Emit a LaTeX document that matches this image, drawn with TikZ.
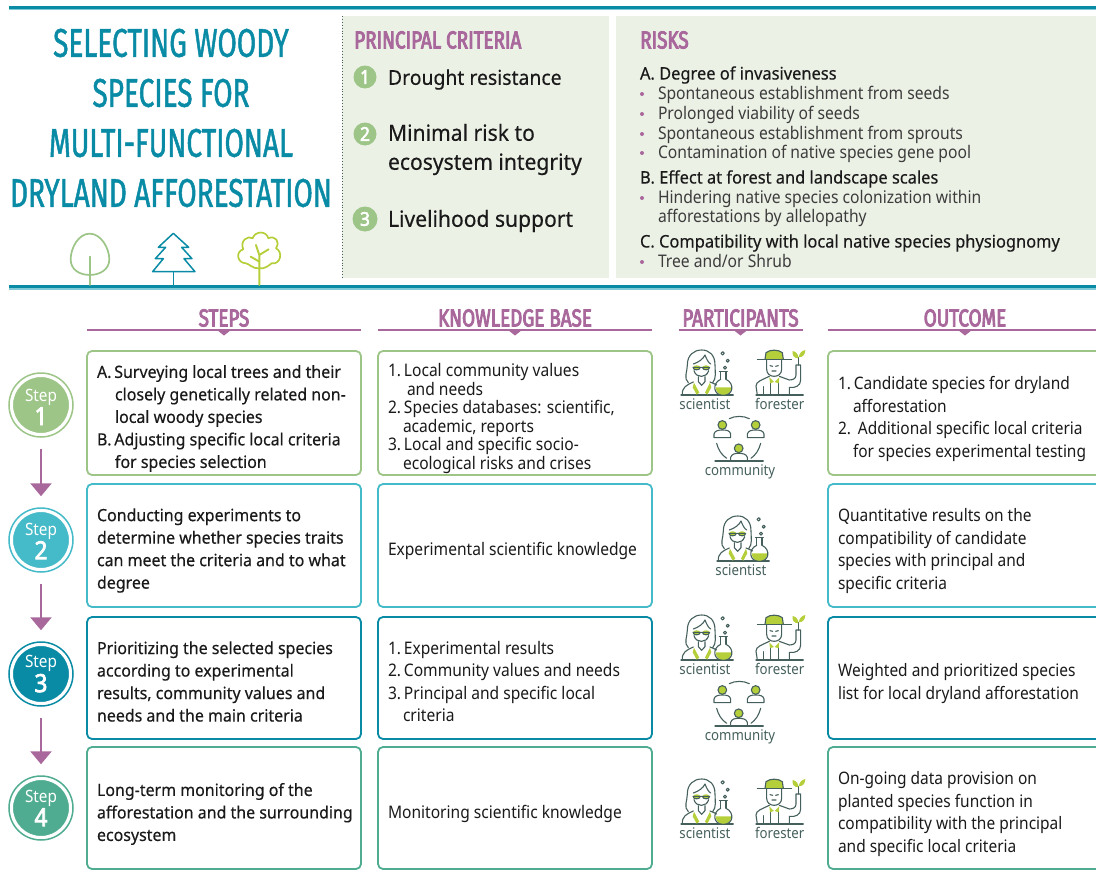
\documentclass[tikz,border=0pt]{standalone}
\usepackage{fontspec}
\usetikzlibrary{arrows.meta}
\setmainfont{Noto Sans}[FakeStretch=0.9]
\newfontfamily\medfont{Noto Sans}[FakeStretch=0.95,FakeBold=0.35]
\newfontfamily\boldnum{Noto Sans}[FakeStretch=0.9,FakeBold=3]
\newfontfamily\condfont{Fira Sans}[FakeStretch=0.70,FakeBold=1.2]
\newfontfamily\headfont{Fira Sans}[FakeStretch=0.77,FakeBold=3.5]
\definecolor{teal1}{HTML}{0A8BA5}
\definecolor{teal2}{HTML}{7FCAD6}
\definecolor{green1}{HTML}{9CC587}
\definecolor{cyan1}{HTML}{45BAC8}
\definecolor{sea1}{HTML}{50AC90}
\definecolor{lime1}{HTML}{B5CF3A}
\definecolor{purple1}{HTML}{A9689C}
\definecolor{panel}{HTML}{ECF1E6}
\definecolor{ink}{HTML}{1A1A1A}
\definecolor{icon1}{HTML}{45605C}
\tikzset{
  x=1pt,y=-1pt,
  txt/.style={inner sep=0pt,outer sep=0pt,text=ink,align=left,anchor=west,font=\fontsize{17.2}{22.5}\selectfont},
  med/.style={txt,font=\medfont\fontsize{16.8}{22.5}\selectfont},
  small/.style={txt,font=\fontsize{17.3}{18.6}\selectfont},
  risk/.style={txt,font=\fontsize{17.4}{19.5}\selectfont,text=ink!85},
  riskm/.style={txt,font=\medfont\fontsize{17.3}{19.5}\selectfont},
  crit/.style={txt,font=\medfont\fontsize{22.2}{29}\selectfont},
  title/.style={inner sep=0pt,text=teal1,anchor=center,font=\condfont\fontsize{40}{50}\selectfont},
  head/.style={inner sep=0pt,text=purple1,font=\headfont\fontsize{24.5}{24}\selectfont},
  stepcard/.style={draw=#1,line width=1.8pt,rounded corners=5pt,fill=white},
  stepdisc/.style={circle,fill=#1,draw=white,line width=2pt,minimum size=58pt,inner sep=0pt},
  steplab/.style={inner sep=0pt,text=white,align=center},
  ring/.style={circle,draw=#1,line width=1.5pt,minimum size=64pt,inner sep=0pt},
  flow/.style={draw=purple1,line width=2.4pt,-{Triangle[width=21pt,length=13pt]},shorten >=11pt,shorten <=11pt},
  rule/.style={draw=purple1,line width=1.6pt},
  ic/.style={draw=icon1,line width=1.1pt,line cap=round,line join=round},
  iclabel/.style={inner sep=0pt,text=icon1,font=\fontsize{14.7}{15}\selectfont},
  numdot/.style={circle,fill=green1,text=white,inner sep=0pt,font=\boldnum\fontsize{19}{19}\selectfont},
  dotb/.style={circle,fill=purple1,inner sep=0pt,minimum size=4pt}
}
\newcommand{\hdr}[4]{%
  \node[head] (#1) at (#3,318) {#2};
  \draw[rule] (#3-#4,330) -- (#3+#4,330);
  \fill[purple1] (#3-7,330) -- (#3+7,330) -- (#3,335.5) -- cycle;}
\newcommand{\steplabel}[1]{\fontsize{17}{18}\selectfont Step\\[1pt]\boldnum\fontsize{25}{25}\selectfont #1}
\newcommand{\scientistIcon}[3]{%
 \begin{scope}[shift={(670+#2,300+#3)},scale=0.3333]
  \draw[ic] (33,285) -- (190,285);
  \draw[ic] (55,248) .. controls (40,235) and (52,215) .. (52,195) .. controls (52,165) and (72,150) .. (95,150) .. controls (118,150) and (135,165) .. (135,195) .. controls (135,215) and (140,235) .. (128,248);
  \draw[ic] (70,192) .. controls (85,187) and (100,177) .. (105,165) .. controls (110,178) and (115,188) .. (122,192);
  \fill[lime1] (80,202) ellipse[x radius=11,y radius=6];
  \fill[lime1] (108,202) ellipse[x radius=11,y radius=6];
  \draw[ic] (69,202) .. controls (69,212) and (90,212) .. (91,202) -- (97,202) .. controls (98,212) and (119,212) .. (119,202) -- (69,202);
  \draw[ic] (72,212) .. controls (78,235) and (110,235) .. (116,212);
  \draw[ic] (85,230) -- (85,245) -- (95,256) -- (105,245) -- (105,230);
  \draw[ic] (37,285) .. controls (35,262) and (50,255) .. (70,246);
  \draw[ic] (120,246) .. controls (130,250) and (135,252) .. (140,255);
  \fill[lime1] (72,248) -- (88,278) -- (80,284) -- (68,262) -- cycle;
  \fill[lime1] (120,248) -- (105,278) -- (112,284) -- (124,262) -- cycle;
  \fill[lime1] (137,262) -- (184,262) arc[start angle=0,end angle=180,radius=23.5] -- cycle;
  \draw[ic] (148,215) -- (172,215) (152,215) -- (152,238) (168,215) -- (168,238);
  \draw[ic] (152,238) .. controls (125,250) and (130,287) .. (160,286) .. controls (190,287) and (195,250) .. (168,238);
  \draw[ic] (158,160) circle[radius=5] (173,182) circle[radius=4.5] (165,203) circle[radius=4.5];
  \node[iclabel] (#1) at (105,312) {scientist};
 \end{scope}}
\newcommand{\foresterIcon}[3]{%
 \begin{scope}[shift={(670+#2,300+#3)},scale=0.3333]
  \draw[ic] (258,285) -- (400,285);
  \fill[lime1] (285,178) -- (288,158) .. controls (300,148) and (325,148) .. (337,158) -- (340,178) -- cycle;
  \draw[ic] (285,178) -- (288,158) .. controls (300,148) and (325,148) .. (337,158) -- (340,178);
  \draw[ic] (262,178) -- (365,178);
  \draw[ic] (290,178) -- (290,208) .. controls (290,236) and (335,236) .. (335,208) -- (335,178);
  \draw[ic] (300,197) -- (308,199) (317,199) -- (325,197) (306,213) -- (318,213);
  \draw[ic] (262,285) -- (258,258) .. controls (258,245) and (275,240) .. (298,229);
  \draw[ic] (328,229) -- (358,240) .. controls (370,240) and (378,235) .. (378,225) -- (378,195) -- (392,195) -- (392,240) .. controls (392,258) and (375,265) .. (358,262) -- (358,285);
  \draw[ic] (280,260) -- (280,285) (302,245) -- (302,285) (325,245) -- (325,285);
  \fill[lime1] (298,232) -- (312,246) -- (300,250) -- cycle;
  \fill[lime1] (328,232) -- (314,246) -- (326,250) -- cycle;
  \draw[ic] (385,195) -- (385,172);
  \fill[lime1] (385,175) .. controls (370,175) and (366,163) .. (368,153) .. controls (380,155) and (386,165) .. (385,175) -- cycle;
  \fill[lime1] (386,172) .. controls (388,160) and (395,152) .. (406,150) .. controls (406,162) and (400,172) .. (386,172) -- cycle;
  \node[iclabel] (#1) at (329,312) {forester};
 \end{scope}}
\newcommand{\communityIcon}[3]{%
 \begin{scope}[shift={(670+#2,300+#3)},scale=0.3333]
  \draw[ic] (178,356) .. controls (195,347) and (220,347) .. (238,356);
  \draw[ic] (140,430) .. controls (145,450) and (155,465) .. (170,475);
  \draw[ic] (272,430) .. controls (267,450) and (257,465) .. (243,475);
  \draw[ic] (135,483) -- (280,483);
  \draw[ic,fill=lime1] (157,375) circle[radius=13];
  \draw[ic,fill=lime1] (257,375) circle[radius=13];
  \draw[ic,fill=lime1] (206,445) circle[radius=13];
  \draw[ic] (132,413) -- (132,402) .. controls (135,392) and (145,390) .. (157,390) .. controls (170,390) and (180,392) .. (182,402) -- (182,413) -- (132,413);
  \draw[ic] (232,413) -- (232,402) .. controls (235,392) and (245,390) .. (257,390) .. controls (270,390) and (280,392) .. (282,402) -- (282,413) -- (232,413);
  \draw[ic] (182,483) -- (182,472) .. controls (185,462) and (195,460) .. (206,460) .. controls (218,460) and (229,462) .. (232,472) -- (232,483);
  \node[iclabel] (#1) at (210,517) {community};
 \end{scope}}
\begin{document}
\begin{tikzpicture}
\useasboundingbox (0,0) rectangle (1096,870);
\clip (0,0) rectangle (1096,870);
% rules
\fill[teal2] (9,8) rectangle (1100,10);
\fill[teal1] (9,6) rectangle (1100,9);
\fill[teal2] (9,287) rectangle (1100,289.5);
\fill[teal1] (9,285) rectangle (1100,288);
% panels
\fill[panel] (342,16) rectangle (609,278);
\fill[panel] (616,16) rectangle (1100,278);
\draw[icon1,line width=0.9pt,dotted] (342,16) -- (342,278);
% title
\node[title] (t1) at (171,43) {SELECTING WOODY};
\node[title] (t2) at (171,93) {SPECIES FOR};
\node[title] (t3) at (171,143) {MULTI-FUNCTIONAL};
\node[title] (t4) at (171,193) {DRYLAND AFFORESTATION};
% trees
\begin{scope}[scale=0.3333,line cap=round,line join=round]
  \draw[green1,line width=1.7pt] (269,770) -- (269,855);
  \draw[green1,line width=1.7pt] (269,701) .. controls (235,701) and (212,745) .. (212,778) .. controls (212,810) and (240,825) .. (269,825) .. controls (298,825) and (328,810) .. (328,778) .. controls (328,745) and (303,701) .. (269,701) -- cycle;
  \draw[teal1,line width=1.5pt] (520,815) -- (520,855);
  \draw[teal1,line width=1.5pt] (520,700) -- (566,742) -- (545,742) -- (576,776) -- (552,776) -- (585,815) -- (458,815) -- (490,776) -- (466,776) -- (497,742) -- (475,742) -- cycle;
  \draw[lime1,line width=1.7pt] (778,805) .. controls (760,808) and (745,790) .. (738,790) .. controls (712,790) and (705,755) .. (730,748) .. controls (718,722) and (745,705) .. (758,715) .. controls (765,692) and (800,692) .. (805,715) .. controls (825,705) and (842,725) .. (828,745) .. controls (850,755) and (842,795) .. (815,790) .. controls (808,795) and (795,808) .. (778,805) -- cycle;
  \draw[lime1,line width=1.9pt] (778,855) -- (778,805) -- (778,765) (768,735) -- (778,765) -- (806,748) (778,785) -- (752,770);
\end{scope}
% principal criteria
\node[head,anchor=west] (pc) at (354,40) {PRINCIPAL CRITERIA};
\node[numdot,minimum size=23pt] (n1) at (365,77) {1};
\node[numdot,minimum size=23pt] (n2) at (365,134) {2};
\node[numdot,minimum size=25pt] (n3) at (365,219) {3};
\node[crit,font=\medfont\fontsize{20.4}{29}\selectfont] (c1) at (388,79.5) {Drought resistance};
\node[crit] (c2) at (388,149.5) {Minimal risk to\\ecosystem integrity};
\node[crit] (c3) at (388,221) {Livelihood support};
% risks
\node[head,anchor=west] (rk) at (640,40) {RISKS};
\node[riskm] (ra) at (640,75) {A. Degree of invasiveness};
\node[risk] (r1) at (658,95) {Spontaneous establishment from seeds};
\node[risk] (r2) at (658,115) {Prolonged viability of seeds};
\node[risk] (r3) at (658,135) {Spontaneous establishment from sprouts};
\node[risk] (r4) at (658,154) {Contamination of native species gene pool};
\node[riskm] (rb) at (640,179) {B. Effect at forest and landscape scales};
\node[risk] (r5) at (658,208.5) {Hindering native species colonization within\\afforestations by allelopathy};
\node[riskm] (rc) at (640,243) {C. Compatibility with local native species physiognomy};
\node[risk] (r6) at (658,261) {Tree and/or Shrub};
\node[dotb] (b1) at (642,94) {};
\node[dotb] (b2) at (642,114) {};
\node[dotb] (b3) at (642,134) {};
\node[dotb] (b4) at (642,153) {};
\node[dotb] (b5) at (642,198) {};
\node[dotb] (b6) at (642,262) {};
% headers
\hdr{h1}{STEPS}{224}{137}
\hdr{h2}{KNOWLEDGE BASE}{515}{137}
\hdr{h3}{PARTICIPANTS}{740.5}{62}
\hdr{h4}{OUTCOME}{965}{137}
% cards
\foreach \c/\ya/\yb in {green1/351/475,cyan1/484/607,teal1/617/739,sea1/747/869}{
  \draw[stepcard=\c] (87,\ya) rectangle (361,\yb);
  \draw[stepcard=\c] (378,\ya) rectangle (652,\yb);
  \draw[stepcard=\c] (828,\ya) rectangle (1110,\yb);
}
% step discs
\node[ring=green1] (rg1) at (41,405) {};
\node[stepdisc=green1] (s1) at (41,405) {};
\node[steplab] (l1) at (41,407) {\steplabel{1}};
\node[ring=cyan1] (rg2) at (41,540) {};
\node[stepdisc=cyan1] (s2) at (41,540) {};
\node[steplab] (l2) at (41,541) {\steplabel{2}};
\node[ring=teal1] (rg3) at (41,674) {};
\node[stepdisc=teal1] (s3) at (41,674) {};
\node[steplab] (l3) at (41,674) {\steplabel{3}};
\node[ring=sea1] (rg4) at (41,808) {};
\node[stepdisc=sea1] (s4) at (41,808) {};
\node[steplab] (l4) at (41,808) {\steplabel{4}};
\draw[flow] (rg1) -- (rg2);
\draw[flow] (rg2) -- (rg3);
\draw[flow] (rg3) -- (rg4);
% row 1
\node[med] (a1) at (97,418.5) {A.\,Surveying local trees and their\\\hspace{18pt}closely genetically related non-\\\hspace{18pt}local woody species\\B.\,Adjusting specific local criteria\\\hspace{18pt}for species selection};
\node[small] (k1) at (388,418.5) {1.\,Local community values\\\hspace{19pt}and needs\\2.\,Species databases: scientific,\\\hspace{15pt}academic, reports\\3.\,Local and specific socio-\\\hspace{15pt}ecological risks and crises};
\node[txt] (o1) at (838,419) {1.\,Candidate species for dryland\\\hspace{15pt}afforestation\\2.\ \,Additional specific local criteria\\\hspace{15pt}for species experimental testing};
% row 2
\node[med] (a2) at (97,550.5) {Conducting experiments to\\determine whether species traits\\can meet the criteria and to what\\degree};
\node[small] (k2) at (388,551) {Experimental scientific knowledge};
\node[txt] (o2) at (838,551) {Quantitative results on the\\compatibility of candidate\\species with principal and\\specific criteria};
% row 3
\node[med] (a3) at (97,681.5) {Prioritizing the selected species\\according to experimental\\results, community values and\\needs and the main criteria};
\node[small,font=\fontsize{17.3}{22.5}\selectfont] (k3) at (388,681.5) {1.\,Experimental results\\2.\,Community values and needs\\3.\,Principal and specific local\\\hspace{15pt}criteria};
\node[txt] (o3) at (838,683.5) {Weighted and prioritized species\\list for local dryland afforestation};
% row 4
\node[med] (a4) at (97,814) {Long-term monitoring of the\\afforestation and the surrounding\\ecosystem};
\node[small] (k4) at (388,814) {Monitoring scientific knowledge};
\node[txt] (o4) at (838,814) {On-going data provision on\\planted species function in\\compatibility with the principal\\and specific local criteria};
% participants
\scientistIcon{sc1}{0}{0}
\foresterIcon{fo1}{0}{0}
\communityIcon{co1}{0}{0}
\scientistIcon{sc2}{36}{166}
\scientistIcon{sc3}{0}{265}
\foresterIcon{fo3}{0}{265}
\communityIcon{co3}{0}{265}
\scientistIcon{sc4}{0}{429}
\foresterIcon{fo4}{0}{429}
\end{tikzpicture}
\end{document}
